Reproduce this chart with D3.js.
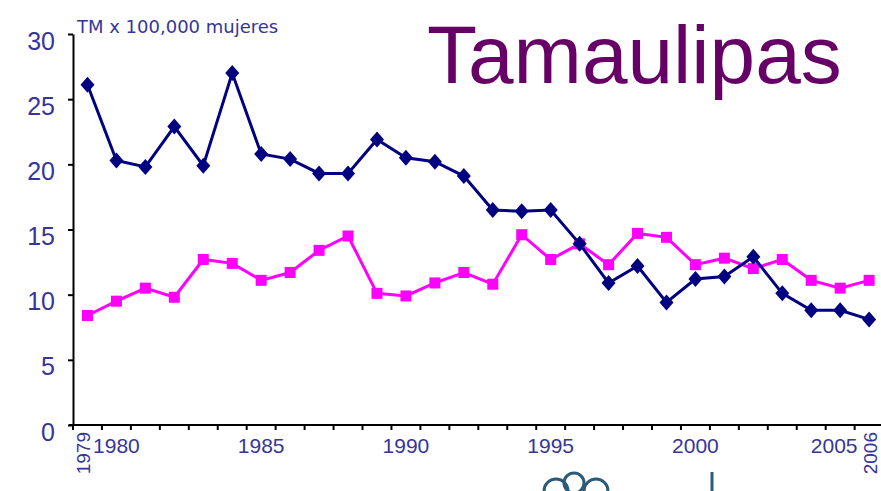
<!DOCTYPE html>
<html>
  <head>
    <meta charset="utf-8">
    <title>Tamaulipas</title>
    <script src="https://d3js.org/d3.v7.min.js"></script>
    <style>
      body { margin: 0; background: #fff; }
    </style>
  </head>
  <body>
    <script>
      // data
      var years = d3.range(1979, 2007);
      var serieAzul = [26.1, 20.3, 19.8, 22.9, 19.9, 27.0, 20.8, 20.4, 19.3, 19.3,
                       21.9, 20.5, 20.2, 19.1, 16.5, 16.4, 16.5, 13.9, 10.9, 12.2,
                       9.4, 11.2, 11.4, 12.9, 10.1, 8.8, 8.8, 8.1];
      var serieRosa = [8.4, 9.5, 10.5, 9.8, 12.7, 12.4, 11.1, 11.7, 13.4, 14.5,
                       10.1, 9.9, 10.9, 11.7, 10.8, 14.6, 12.7, 13.9, 12.3, 14.7,
                       14.4, 12.3, 12.8, 12.0, 12.7, 11.1, 10.5, 11.1];
      var yTicks = [0, 5, 10, 15, 20, 25, 30];
      var xLabels = [1980, 1985, 1990, 1995, 2000, 2005];
      var xLabelsRot = [1979, 2006];

      var W = 881, H = 491;
      var mLeft = 73, mTop = 34, mBottom = 425;
      var band = 28.95;
      var txtColor = "#35359a";

      var svg = d3.select("body").append("svg")
          .attr("width", W)
          .attr("height", H);

      var x = d3.scaleBand()
          .domain(years)
          .range([mLeft, mLeft + band * years.length]);
      var y = d3.scaleLinear()
          .domain([0, 30])
          .range([mBottom, mTop]);
      var cx = function(d) { return x(d) + x.bandwidth() / 2; };

      // title
      svg.append("text")
          .attr("x", 427)
          .attr("y", 83)
          .style("font-family", "Liberation Sans, Arial, sans-serif")
          .style("font-size", "82px")
          .style("fill", "#660066")
          .text("Tamaulipas");

      svg.append("text")
          .attr("x", 77)
          .attr("y", 33)
          .style("font-family", "DejaVu Sans, sans-serif")
          .style("font-size", "18px")
          .style("fill", txtColor)
          .text("TM x 100,000 mujeres");

      // y axis
      var yAxis = svg.append("g")
          .attr("transform", "translate(" + mLeft + ",0)")
          .call(d3.axisLeft(y).tickValues(yTicks).tickSize(5).tickPadding(13).tickSizeOuter(0));
      yAxis.select(".domain").attr("stroke", "#000").attr("stroke-width", 2);
      yAxis.selectAll(".tick line").attr("stroke", "#000").attr("stroke-width", 2);
      yAxis.selectAll(".tick text")
          .attr("dy", "0.6em")
          .style("font-family", "Liberation Sans, Arial, sans-serif")
          .style("font-size", "25px")
          .style("fill", txtColor);

      // x axis: ticks on band edges
      var xg = svg.append("g");
      xg.append("line")
          .attr("x1", mLeft - 4).attr("x2", W)
          .attr("y1", mBottom).attr("y2", mBottom)
          .attr("stroke", "#000").attr("stroke-width", 2);
      xg.selectAll("line.tk")
        .data(years)
        .enter().append("line")
          .attr("class", "tk")
          .attr("x1", function(d) { return x(d); })
          .attr("x2", function(d) { return x(d); })
          .attr("y1", mBottom)
          .attr("y2", mBottom + 5)
          .attr("stroke", "#000")
          .attr("stroke-width", 2);

      xg.selectAll("text.lb")
        .data(xLabels)
        .enter().append("text")
          .attr("class", "lb")
          .attr("x", function(d) { return d === 2005 ? cx(d) - 6 : cx(d); })
          .attr("y", 453)
          .attr("text-anchor", "middle")
          .style("font-family", "Liberation Sans, Arial, sans-serif")
          .style("font-size", "21px")
          .style("fill", txtColor)
          .text(function(d) { return d; });

      xg.selectAll("text.rot")
        .data(xLabelsRot)
        .enter().append("text")
          .attr("class", "rot")
          .attr("transform", function(d) {
            var px = d === 1979 ? x(d) + 17 : x(d) + 22;
            return "translate(" + px + ",432) rotate(-90)";
          })
          .attr("text-anchor", "end")
          .style("font-family", "Liberation Sans, Arial, sans-serif")
          .style("font-size", "19px")
          .style("fill", txtColor)
          .text(function(d) { return d; });

      // lines
      var line = d3.line()
          .x(function(d, i) { return cx(years[i]); })
          .y(function(d) { return y(d); });

      svg.append("path")
          .datum(serieRosa)
          .attr("d", line)
          .attr("fill", "none")
          .attr("stroke", "#ff00ff")
          .attr("stroke-width", 3);

      svg.selectAll("rect.sq")
        .data(serieRosa)
        .enter().append("rect")
          .attr("class", "sq")
          .attr("x", function(d, i) { return cx(years[i]) - 5.5; })
          .attr("y", function(d) { return y(d) - 5.5; })
          .attr("width", 11)
          .attr("height", 11)
          .attr("fill", "#ff00ff");

      svg.append("path")
          .datum(serieAzul)
          .attr("d", line)
          .attr("fill", "none")
          .attr("stroke", "#000080")
          .attr("stroke-width", 3);

      svg.selectAll("path.dm")
        .data(serieAzul)
        .enter().append("path")
          .attr("class", "dm")
          .attr("d", "M0,-8L7,0L0,8L-7,0Z")
          .attr("transform", function(d, i) {
            return "translate(" + cx(years[i]) + "," + y(d) + ")";
          })
          .attr("fill", "#000080");

      // piece of logo at the bottom
      var logo = svg.append("g")
          .attr("fill", "none")
          .attr("stroke", "#2b5b7b")
          .attr("stroke-width", 3);
      logo.append("circle").attr("cx", 556).attr("cy", 491).attr("r", 12);
      logo.append("circle").attr("cx", 574).attr("cy", 483).attr("r", 10);
      logo.append("circle").attr("cx", 596).attr("cy", 491).attr("r", 12);
      logo.append("line")
          .attr("x1", 712).attr("x2", 712)
          .attr("y1", 472).attr("y2", 491);
    </script>
  </body>
</html>
